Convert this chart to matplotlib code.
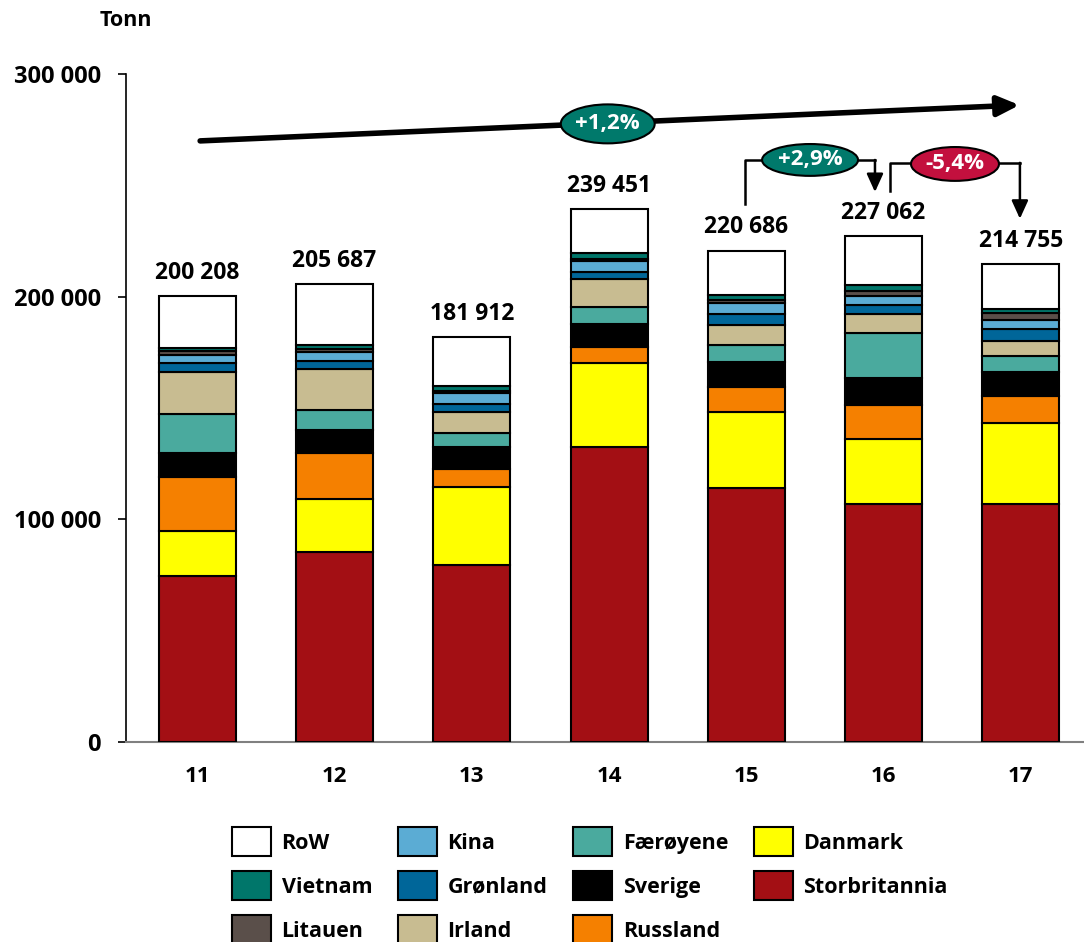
import matplotlib
matplotlib.use("Agg")
import matplotlib.pyplot as plt
from matplotlib.patches import Ellipse, Patch, FancyArrowPatch
import numpy as np

plt.rcParams["font.family"] = ["Open Sans", "DejaVu Sans"]
plt.rcParams["font.weight"] = "bold"

# [1] Data (tonnes), stacked bottom to top
years = ["11", "12", "13", "14", "15", "16", "17"]
totals = [200208, 205687, 181912, 239451, 220686, 227062, 214755]

storbritannia = [74400, 85200, 79400, 132700, 113900, 107000, 107000]
danmark = [20200, 23800, 34900, 37600, 34500, 29000, 36200]
russland = [24200, 20600, 8100, 7100, 11200, 15500, 12000]
sverige = [10800, 10300, 9900, 10400, 11200, 11900, 11100]
faeroyene = [17500, 9000, 6600, 7600, 7600, 20300, 6900]
irland = [18900, 18600, 9200, 12600, 8700, 8600, 6900]
gronland = [4000, 3800, 3700, 3000, 5200, 3800, 5200]
kina = [4000, 3700, 5000, 4800, 4900, 4000, 4400]
litauen = [1600, 1600, 1000, 1100, 1200, 2500, 3000]
vietnam = [1500, 1900, 1900, 2700, 2500, 2700, 1900]

growth_total = "+1,2%"
growth_15_16 = "+2,9%"
growth_16_17 = "-5,4%"

SERIES = [
    ("Storbritannia", storbritannia, "#A30F14"),
    ("Danmark", danmark, "#FFFF00"),
    ("Russland", russland, "#F58000"),
    ("Sverige", sverige, "#000000"),
    ("Færøyene", faeroyene, "#4AAA9E"),
    ("Irland", irland, "#C8BC91"),
    ("Grønland", gronland, "#006699"),
    ("Kina", kina, "#5BACD4"),
    ("Litauen", litauen, "#5A4F4A"),
    ("Vietnam", vietnam, "#00766A"),
]

# RoW is whatever is left up to the total
row_values = np.array(totals) - np.sum([s[1] for s in SERIES], axis=0)
SERIES.append(("RoW", list(row_values), "#FFFFFF"))

GREEN = "#00796B"
RED = "#C3103E"


def fmt(v):
    return f"{v:,}".replace(",", " ")


# [2] Figure
fig = plt.figure(figsize=(10.84, 9.42), dpi=100)
ax = fig.add_axes([126 / 1084, 1 - 742 / 942, 1 - 126 / 1084, (742 - 74) / 942])

x = np.arange(len(years))
bottom = np.zeros(len(years))
colors = {}
for name, values, color in SERIES:
    ax.bar(x, values, bottom=bottom, width=0.56, color=color,
           edgecolor="black", linewidth=1.5, zorder=3)
    bottom += np.array(values)
    colors[name] = color

for xi, total in zip(x, totals):
    ax.text(xi, total + 5000, fmt(total), ha="center", va="bottom",
            fontsize=16.5, fontweight="bold")

ax.set_xlim(-0.52, 6.46)
ax.set_ylim(0, 300000)
ax.set_yticks([0, 100000, 200000, 300000])
ax.set_yticklabels([fmt(v) for v in [0, 100000, 200000, 300000]],
                   fontsize=17, fontweight="bold")
ax.set_xticks(x)
ax.set_xticklabels(years, fontsize=16, fontweight="bold")
ax.tick_params(axis="x", length=0, pad=17)
ax.tick_params(axis="y", length=6, width=1.2, pad=12)

for side in ["top", "right"]:
    ax.spines[side].set_visible(False)
ax.spines["left"].set_linewidth(1.2)
ax.spines["bottom"].set_color("#808080")
ax.spines["bottom"].set_linewidth(1.5)

fig.text(100 / 1084, 1 - 20 / 942, "Tonn", ha="left", va="center",
         fontsize=15.5, fontweight="bold")

# [3] Growth arrows
big = FancyArrowPatch((0, 269900), (6.01, 286100),
                      arrowstyle="-|>,head_length=0.65,head_width=0.3",
                      mutation_scale=20, linewidth=4, color="black", zorder=4)
ax.add_patch(big)
ax.add_patch(Ellipse((2.99, 277600), 0.684, 17500, facecolor=GREEN,
                     edgecolor="black", linewidth=1.5, zorder=5))
ax.text(2.99, 277600, growth_total, ha="center", va="center", color="white",
        fontsize=16, fontweight="bold", zorder=6)

small_head = dict(arrowstyle="-|>,head_length=0.55,head_width=0.25",
                  mutation_scale=20, color="black", linewidth=1.8,
                  shrinkA=0, shrinkB=0)

# 15 -> 16 bracket
ax.plot([3.99, 3.99, 4.937], [241700, 261400, 261400], color="black", linewidth=1.8, zorder=4)
ax.annotate("", xy=(4.937, 247000), xytext=(4.937, 261400), arrowprops=small_head, zorder=4)
ax.add_patch(Ellipse((4.464, 261400), 0.699, 14300, facecolor=GREEN,
                     edgecolor="black", linewidth=1.5, zorder=5))
ax.text(4.464, 261400, growth_15_16, ha="center", va="center", color="white",
        fontsize=16, fontweight="bold", zorder=6)

# 16 -> 17 bracket
ax.plot([5.046, 5.046, 5.993], [247500, 260100, 260100], color="black", linewidth=1.8, zorder=4)
ax.annotate("", xy=(5.993, 235000), xytext=(5.993, 260100), arrowprops=small_head, zorder=4)
ax.add_patch(Ellipse((5.52, 259600), 0.641, 15200, facecolor=RED,
                     edgecolor="black", linewidth=1.5, zorder=5))
ax.text(5.52, 259600, growth_16_17, ha="center", va="center", color="white",
        fontsize=16, fontweight="bold", zorder=6)

# [4] Legend (column-wise order so rows read RoW, Kina, Færøyene, Danmark ...)
legend_order = ["RoW", "Vietnam", "Litauen",
                "Kina", "Grønland", "Irland",
                "Færøyene", "Sverige", "Russland",
                "Danmark", "Storbritannia"]
handles = [Patch(facecolor=colors[n], edgecolor="black", linewidth=1.5, label=n)
           for n in legend_order]
fig.legend(handles=handles, ncol=4, loc="upper left",
           bbox_to_anchor=(232 / 1084, 1 - 827 / 942), frameon=False,
           prop={"size": 15.5, "weight": "bold"}, handlelength=1.8, handleheight=1.7,
           handletextpad=0.5, labelspacing=0.7, columnspacing=1.2,
           borderpad=0, borderaxespad=0)

fig.savefig("out.png", dpi=100)
